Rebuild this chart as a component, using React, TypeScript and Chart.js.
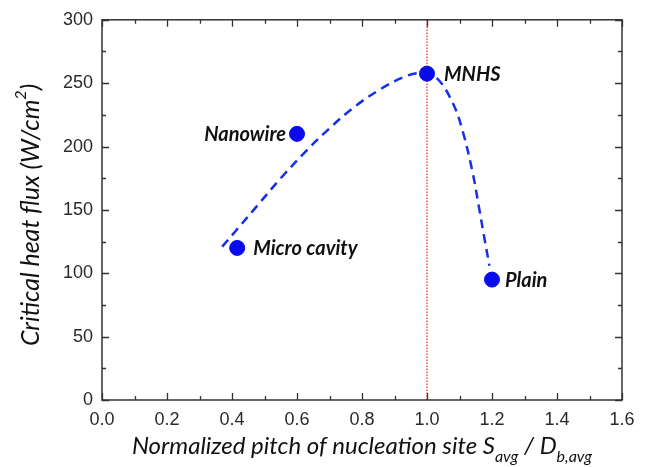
import React, { useEffect, useRef } from "react";
import { Chart, registerables } from "chart.js";

Chart.register(...registerables);

// ---- data ----
const sampleNames = ["Micro cavity", "Nanowire", "MNHS", "Plain"];
const sampleX = [0.416, 0.6, 1.0, 1.2];
const sampleCHF = [120, 210, 257.5, 95];

const fitX = [0.37, 0.41, 0.48, 0.55, 0.63, 0.69, 0.77, 0.855, 0.93, 0.978, 1.03, 1.08, 1.11, 1.14, 1.16, 1.175, 1.192];
const fitY = [121, 133, 154, 175, 197, 212, 230, 245, 255, 258, 254, 234, 212, 180, 152, 130, 106];

const refLineX = 1.0;
const yRange = [0, 300];
const xRange = [0, 1.6];
const xMajor = 0.2;
const xMinor = 0.1;
const yMajor = 50;
const yMinor = 25;

const PLOT_LEFT = 102;
const PLOT_RIGHT_PAD = 23;
const PLOT_TOP = 18;
const X_AXIS_H = 67;

const frame = {
  id: "frame",
  afterDraw(chart: any) {
    const { ctx, chartArea: a, scales } = chart;
    const xs = scales.x;
    const ys = scales.y;
    ctx.save();
    ctx.strokeStyle = "#333";
    ctx.lineWidth = 1.5;
    ctx.strokeRect(a.left, a.top, a.right - a.left, a.bottom - a.top);
    ctx.lineWidth = 1.3;
    ctx.beginPath();
    const nx = Math.round((xRange[1] - xRange[0]) / xMinor);
    for (let i = 0; i <= nx; i++) {
      const v = xRange[0] + i * xMinor;
      const major = i % Math.round(xMajor / xMinor) === 0;
      const len = major ? 7 : 4;
      const px = Math.round(xs.getPixelForValue(v)) + 0.5;
      ctx.moveTo(px, a.bottom);
      ctx.lineTo(px, a.bottom - len);
      ctx.moveTo(px, a.top);
      ctx.lineTo(px, a.top + len);
    }
    const ny = Math.round((yRange[1] - yRange[0]) / yMinor);
    for (let i = 0; i <= ny; i++) {
      const v = yRange[0] + i * yMinor;
      const major = i % Math.round(yMajor / yMinor) === 0;
      const len = major ? 7 : 4;
      const py = Math.round(ys.getPixelForValue(v)) + 0.5;
      ctx.moveTo(a.left, py);
      ctx.lineTo(a.left + len, py);
      ctx.moveTo(a.right, py);
      ctx.lineTo(a.right - len, py);
    }
    ctx.stroke();

    // x title
    ctx.fillStyle = "#111";
    ctx.textBaseline = "alphabetic";
    const big = "italic 24px Lato";
    const small = "italic 16px Lato";
    const parts: [string, string, number][] = [
      ["Normalized pitch of nucleation site S", big, 0],
      ["avg", small, 8],
      [" / D", big, 0],
      ["b,avg", small, 8],
    ];
    let total = 0;
    for (const [t, f] of parts) {
      ctx.font = f;
      total += ctx.measureText(t).width;
    }
    let x = (a.left + a.right) / 2 - total / 2;
    const base = 454;
    for (const [t, f, dy] of parts) {
      ctx.font = f;
      ctx.fillText(t, x, base + dy);
      x += ctx.measureText(t).width;
    }

    // y title
    const ybig = "italic 25px Lato";
    const ysmall = "italic 16px Lato";
    ctx.save();
    ctx.translate(39, 215);
    ctx.rotate(-Math.PI / 2);
    const yparts: [string, string, number][] = [
      ["Critical heat flux (W/cm", ybig, 0],
      ["2", ysmall, -13],
      [")", ybig, 0],
    ];
    total = 0;
    for (const [t, f] of yparts) {
      ctx.font = f;
      total += ctx.measureText(t).width;
    }
    x = -total / 2;
    for (const [t, f, dy] of yparts) {
      ctx.font = f;
      ctx.fillText(t, x, dy);
      x += ctx.measureText(t).width;
    }
    ctx.restore();
    ctx.restore();
  },
  afterDatasetsDraw(chart: any) {
    const { ctx } = chart;
    const meta = chart.getDatasetMeta(0);
    ctx.save();
    ctx.font = "italic bold 20px Lato";
    ctx.fillStyle = "#111";
    ctx.textBaseline = "middle";
    meta.data.forEach((el: any, i: number) => {
      const name = sampleNames[i];
      if (name === "Nanowire") {
        ctx.textAlign = "right";
        ctx.fillText(name, el.x - 11, el.y + 1);
      } else {
        ctx.textAlign = "left";
        const off = name === "Plain" ? 13 : name === "MNHS" ? 17 : 16;
        ctx.fillText(name, el.x + off, el.y + 1);
      }
    });
    ctx.restore();
  },
};

export default function App() {
  const ref = useRef<HTMLCanvasElement | null>(null);
  useEffect(() => {
    document.body.style.margin = "0";
    const canvas = ref.current!;
    const chart = new Chart(canvas, {
      type: "scatter",
      data: {
        datasets: [
          {
            label: "samples",
            data: sampleX.map((x, i) => ({ x, y: sampleCHF[i] })),
            backgroundColor: "#0a0aee",
            borderColor: "#0a0aee",
            pointRadius: 7.5,
            pointHoverRadius: 7.5,
            showLine: false,
            order: 0,
          },
          {
            label: "fit",
            type: "line",
            data: fitX.map((x, i) => ({ x, y: fitY[i] })),
            borderColor: "#1530e6",
            borderWidth: 2.5,
            borderDash: [9, 6],
            pointRadius: 0,
            tension: 0.35,
            fill: false,
            order: 1,
          },
          {
            label: "ref",
            type: "line",
            data: [
              { x: refLineX, y: yRange[0] },
              { x: refLineX, y: yRange[1] },
            ],
            borderColor: "#ff1a1a",
            borderWidth: 1.2,
            borderDash: [1.5, 1.5],
            pointRadius: 0,
            fill: false,
            order: 2,
          },
        ] as any,
      },
      options: {
        responsive: false,
        animation: false,
        layout: { padding: { left: 0, right: PLOT_RIGHT_PAD, top: PLOT_TOP, bottom: 0 } },
        plugins: { legend: { display: false }, tooltip: { enabled: false } },
        scales: {
          x: {
            type: "linear",
            min: xRange[0],
            max: xRange[1],
            grid: { display: false, drawTicks: false },
            border: { display: false },
            ticks: {
              stepSize: xMajor,
              padding: 9,
              color: "#2a2a2a",
              font: { family: "Liberation Sans", size: 18 },
              callback: (v: any) => Number(v).toFixed(1),
              maxRotation: 0,
            },
            afterFit: (s: any) => {
              s.height = X_AXIS_H;
            },
          },
          y: {
            type: "linear",
            min: yRange[0],
            max: yRange[1],
            grid: { display: false, drawTicks: false },
            border: { display: false },
            ticks: {
              stepSize: yMajor,
              padding: 9,
              color: "#2a2a2a",
              font: { family: "Liberation Sans", size: 18 },
            },
            afterFit: (s: any) => {
              s.width = PLOT_LEFT;
            },
          },
        },
      },
      plugins: [frame],
    });
    return () => chart.destroy();
  }, []);
  return <canvas ref={ref} width={645} height={467} style={{ display: "block" }} />;
}
